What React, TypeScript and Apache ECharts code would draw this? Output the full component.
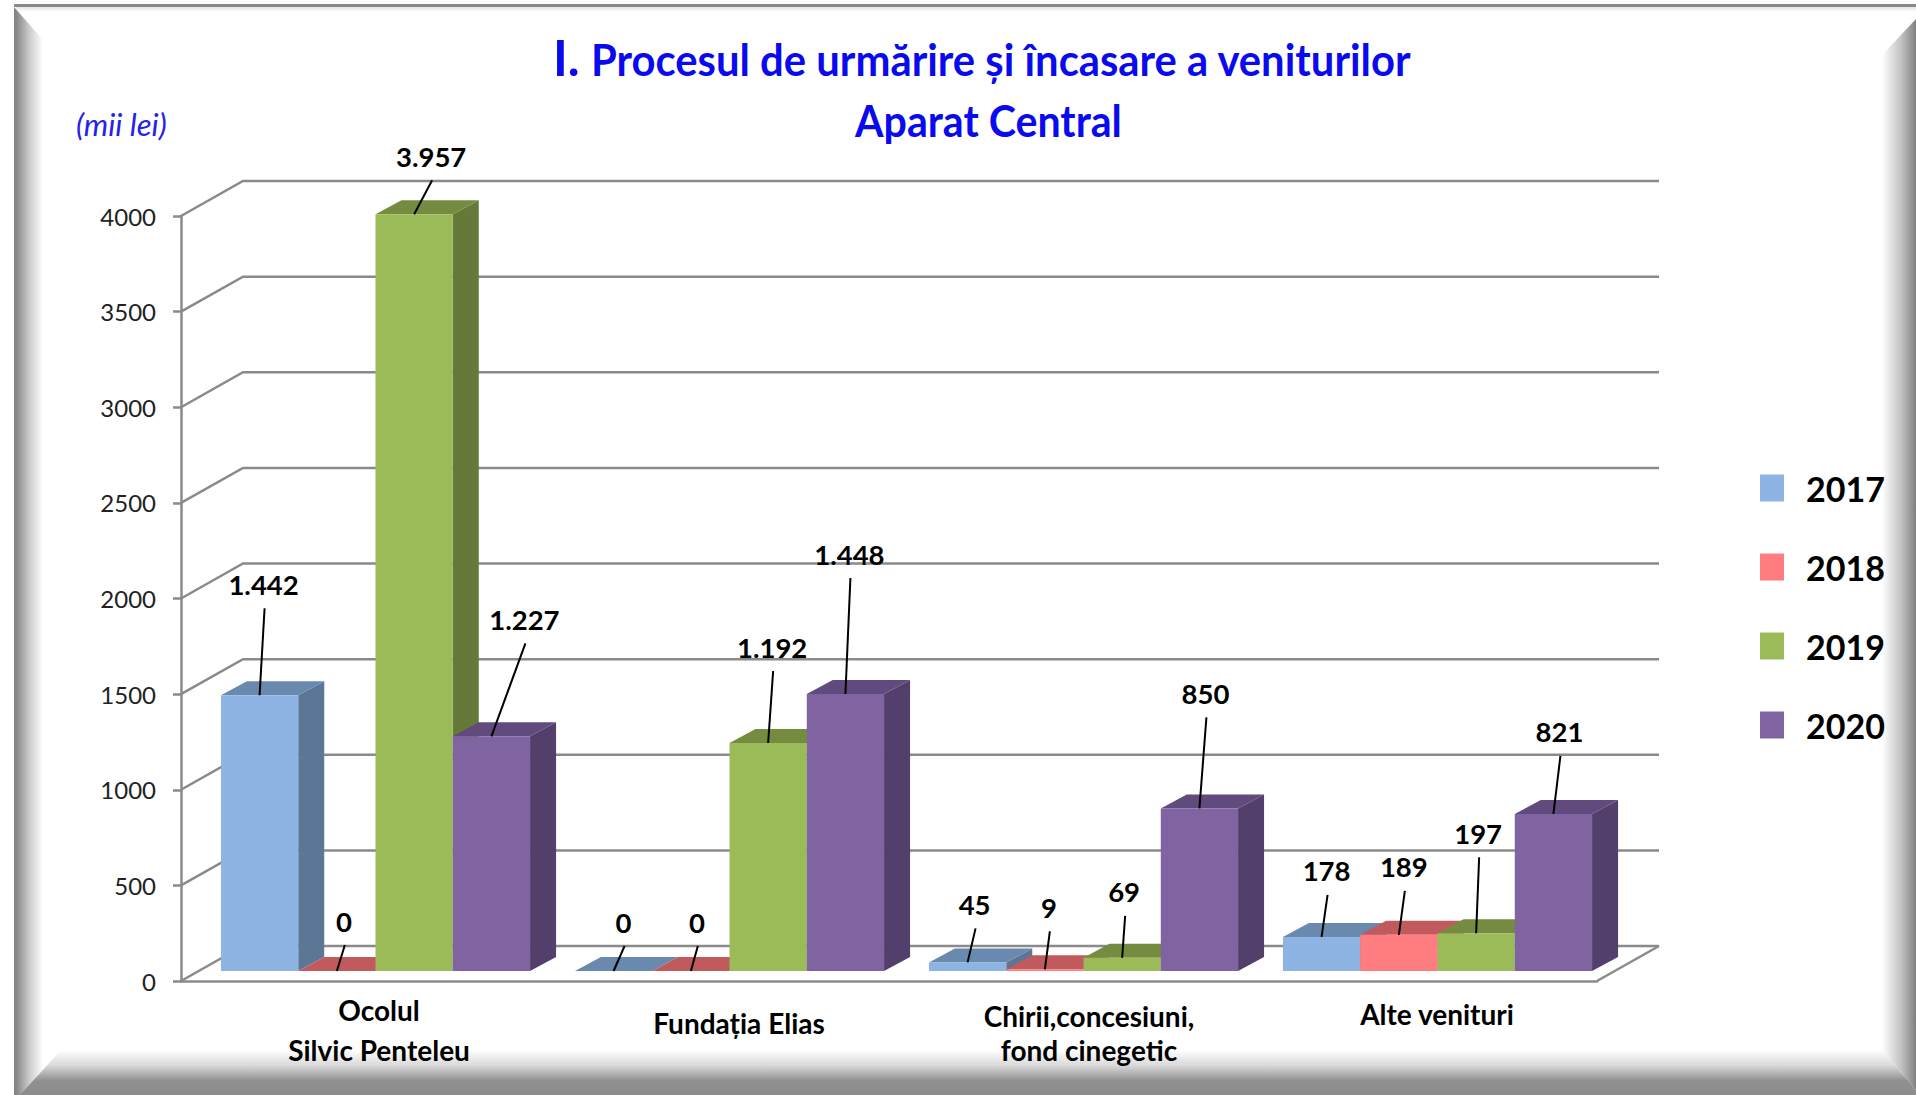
import React, { useEffect, useRef } from "react";
import * as echarts from "echarts";

const categories = ["Ocolul\nSilvic Penteleu", "Fundația Elias", "Chirii,concesiuni,\nfond cinegetic", "Alte venituri"];
const years = ["2017", "2018", "2019", "2020"];
const values2017 = [1442, 0, 45, 178];
const values2018 = [0, 0, 9, 189];
const values2019 = [3957, 1192, 69, 197];
const values2020 = [1227, 1448, 850, 821];
const yTicks = [0, 500, 1000, 1500, 2000, 2500, 3000, 3500, 4000];
const titleLead = "I.";
const titleLine1 = "Procesul de urmărire și încasare a veniturilor";
const titleLine2 = "Aparat Central";
const unitLabel = "(mii lei)";

const seriesValues = [values2017, values2018, values2019, values2020];
const faces = [
  { front: "#8DB4E2", side: "#5C7695", top: "#6A89AE" },
  { front: "#FF7C80", side: "#A65254", top: "#C05A5C" },
  { front: "#9BBB59", side: "#657A38", top: "#758C40" },
  { front: "#8064A2", side: "#533F6B", top: "#614A7E" },
];
// hand-placed label offsets from the bar's top-front centre, [year][category]
const labelShift = [
  [[4, -111], [10, -49], [7, -58], [5, -66]],
  [[7, -50], [6, -49], [4, -62], [5, -68]],
  [[17, -58], [4, -96], [2, -66], [2, -100]],
  [[33, -117], [4, -140], [6, -115], [6, -82]],
];
const catShiftX = [42, 54, 46, 34];
const catShiftY = [0, 25, 12, 8];

const FONT = "Lato, 'Open Sans', sans-serif";
const GRID = { left: 181, top: 216, width: 1416, height: 765 };
const WALL = { dx: 62, dy: 35 };
const BAR = { ratio: 0.2183, shiftX: 17.5, shiftY: 10, dx: 26, dy: 14 };
const LINE = "#8a8a8a";

const fmt = (v: number) => String(v).replace(/\B(?=(\d{3})+(?!\d))/g, ".");

function barGeom(api: any, yearIdx: number) {
  const cat = api.value(0);
  const val = api.value(1);
  const band = api.size([1, 0])[0];
  const w = band * BAR.ratio;
  const [cx, topY0] = api.coord([cat, val]);
  const baseY0 = api.coord([cat, 0])[1];
  const x0 = cx - 2 * w + BAR.shiftX + yearIdx * w;
  return { x0, x1: x0 + w, top: topY0 - BAR.shiftY, base: baseY0 - BAR.shiftY, w };
}

function renderBar(yearIdx: number) {
  return (_: any, api: any) => {
    const { x0, x1, top, base } = barGeom(api, yearIdx);
    const c = faces[yearIdx];
    const { dx, dy } = BAR;
    return {
      type: "group",
      children: [
        { type: "polygon", shape: { points: [[x1, top], [x1 + dx, top - dy], [x1 + dx, base - dy], [x1, base]] }, style: { fill: c.side } },
        { type: "polygon", shape: { points: [[x0, top], [x0 + dx, top - dy], [x1 + dx, top - dy], [x1, top]] }, style: { fill: c.top } },
        { type: "rect", shape: { x: x0, y: top, width: x1 - x0, height: base - top }, style: { fill: c.front } },
      ],
    };
  };
}

function renderLabel(yearIdx: number) {
  return (_: any, api: any) => {
    const { x0, x1, top } = barGeom(api, yearIdx);
    const cat = api.value(0);
    const ax = (x0 + x1) / 2;
    const [sx, sy] = labelShift[yearIdx][cat];
    const lx = ax + sx;
    const ly = top + sy;
    return {
      type: "group",
      children: [
        { type: "line", shape: { x1: lx + 1, y1: ly + 24, x2: ax, y2: top }, style: { stroke: "#000", lineWidth: 2 } },
        {
          type: "text",
          style: { x: lx, y: ly, text: fmt(api.value(1)), align: "center", verticalAlign: "middle", textAlign: "center", textVerticalAlign: "middle", fontFamily: FONT, fontWeight: "bold", fontSize: 27.5, fill: "#000" },
        },
      ],
    };
  };
}

function renderGrid(_: any, api: any) {
  const v = api.value(0);
  const band = api.size([1, 0])[0];
  const y = api.coord([0, v])[1];
  const left = api.coord([0, v])[0] - band / 2;
  const right = api.coord([categories.length - 1, v])[0] + band / 2;
  const children: any[] = [
    { type: "polyline", shape: { points: [[left, y], [left + WALL.dx, y - WALL.dy], [right + WALL.dx, y - WALL.dy]] }, style: { fill: "none", stroke: LINE, lineWidth: 2.5 } },
  ];
  if (v === 0) {
    children.push({ type: "line", shape: { x1: right, y1: y, x2: right + WALL.dx, y2: y - WALL.dy }, style: { stroke: LINE, lineWidth: 2.5 } });
  }
  return { type: "group", children };
}

const lg = (x0: number, y0: number, x1: number, y1: number, stops: [number, string][]) =>
  new echarts.graphic.LinearGradient(x0, y0, x1, y1, stops.map(([offset, color]) => ({ offset, color })));

function frame() {
  return [
    { type: "rect", z: -10, shape: { x: 14, y: 4, width: 1902, height: 3 }, style: { fill: "#8a8a8a" } },
    { type: "rect", z: -10, shape: { x: 16, y: 7, width: 1900, height: 5 }, style: { fill: lg(0, 0, 0, 1, [[0, "#e4e4e4"], [1, "#ffffff"]]) } },
    { type: "polygon", z: -9, shape: { points: [[14, 7], [43, 40], [43, 1095], [14, 1095]] }, style: { fill: lg(0, 0, 1, 0, [[0, "#808080"], [0.12, "#8c8c8c"], [0.5, "#c8c8c8"], [1, "#ffffff"]]) } },
    { type: "polygon", z: -9, shape: { points: [[1916, 19], [1882, 55], [1882, 1050], [1916, 1090]] }, style: { fill: lg(0, 0, 1, 0, [[0, "#ffffff"], [0.55, "#c4c4c4"], [1, "#808080"]]) } },
    { type: "polygon", z: -8, shape: { points: [[20, 1095], [61, 1050], [1882, 1050], [1916, 1090], [1916, 1095]] }, style: { fill: lg(0, 0, 0, 1, [[0, "#ffffff"], [0.35, "#d8d8d8"], [0.68, "#909090"], [1, "#8c8c8c"]]) } },
  ];
}

function titleText() {
  const base = { fontFamily: FONT, fontWeight: "bold", fill: "#0a0aee" };
  return [
    { type: "text", z: 20, x: 553, y: 57, style: { ...base, text: titleLead, fontSize: 50, verticalAlign: "middle", textVerticalAlign: "middle" } },
    { type: "text", z: 20, x: 591, y: 59, scaleX: 0.95, style: { ...base, text: titleLine1, fontSize: 44, verticalAlign: "middle", textVerticalAlign: "middle" } },
    { type: "text", z: 20, x: 855, y: 120, scaleX: 0.935, style: { ...base, text: titleLine2, fontSize: 44, verticalAlign: "middle", textVerticalAlign: "middle" } },
    { type: "text", z: 20, x: 76, y: 124, style: { text: unitLabel, fontFamily: FONT, fontStyle: "italic", fontSize: 31, fill: "#2222ee", verticalAlign: "middle", textVerticalAlign: "middle" } },
  ];
}

export default function App() {
  const ref = useRef<HTMLDivElement>(null);
  useEffect(() => {
    const chart = echarts.init(ref.current!, undefined, { renderer: "svg" });
    const rich: any = {};
    categories.forEach((_, i) => {
      const common = { fontFamily: FONT, fontWeight: "bold", fontSize: 28, lineHeight: 40, color: "#000" };
      rich[`a${i}`] = { ...common, padding: [catShiftY[i], 0, 0, catShiftX[i]] };
      rich[`b${i}`] = { ...common, padding: [0, 0, 0, catShiftX[i]] };
    });
    chart.setOption({
      animation: false,
      backgroundColor: "#ffffff",
      grid: { ...GRID, containLabel: false },
      graphic: { elements: [...frame(), ...titleText()] as any },
      legend: {
        data: years,
        orient: "vertical",
        left: 1755,
        top: 466,
        itemWidth: 24,
        itemHeight: 27,
        itemGap: 45,
        selectedMode: false,
        icon: "rect",
        textStyle: { fontFamily: FONT, fontWeight: "bold", fontSize: 34, color: "#000", padding: [0, 0, 0, 17] },
      },
      xAxis: {
        type: "category",
        data: categories,
        z: 5,
        axisTick: { show: false },
        axisLine: { lineStyle: { color: LINE, width: 2.5 } },
        axisLabel: {
          margin: 9,
          interval: 0,
          formatter: (v: string, i: number) => v.split("\n").map((l, k) => `{${k === 0 ? "a" : "b"}${i}|${l}}`).join("\n"),
          rich,
        },
      },
      yAxis: {
        type: "value",
        min: 0,
        max: 4000,
        interval: 500,
        z: 5,
        splitLine: { show: false },
        axisLine: { show: true, lineStyle: { color: LINE, width: 2.5 } },
        axisTick: { show: true, length: 8, lineStyle: { color: LINE, width: 2.5 } },
        axisLabel: { margin: 25, fontFamily: FONT, fontSize: 24, color: "#222", formatter: (v: number) => String(v) },
      },
      series: [
        { type: "custom", name: "grid", z: 1, silent: true, renderItem: renderGrid, data: yTicks.map((v) => [v]), encode: { y: 0 } },
        ...years.map((y, i) => ({
          type: "custom",
          name: y,
          z: 3 + i,
          itemStyle: { color: faces[i].front },
          renderItem: renderBar(i),
          encode: { x: 0, y: 1 },
          data: seriesValues[i].map((v, c) => [c, v]),
        })),
        ...years.map((y, i) => ({
          type: "custom",
          name: `${y} etichete`,
          z: 10,
          silent: true,
          renderItem: renderLabel(i),
          encode: { x: 0, y: 1 },
          data: seriesValues[i].map((v, c) => [c, v]),
        })),
      ],
    } as any);
    return () => chart.dispose();
  }, []);
  return <div ref={ref} style={{ position: "fixed", left: 0, top: 0, width: 1916, height: 1095 }} />;
}
